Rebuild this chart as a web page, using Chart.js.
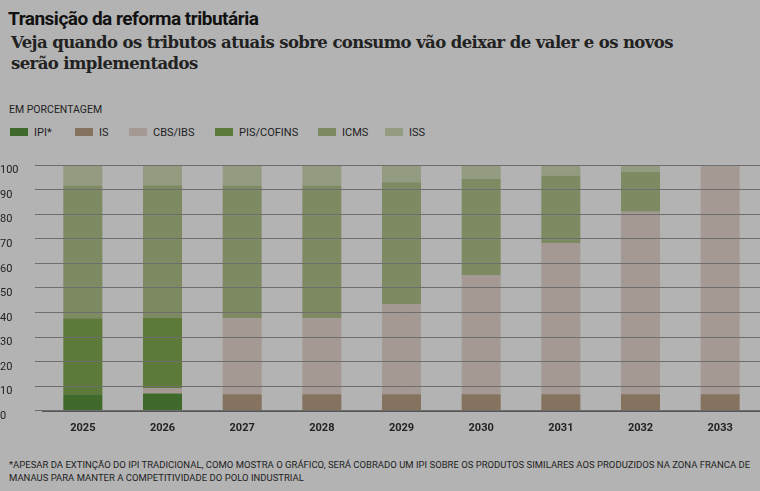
<!DOCTYPE html><html><head><meta charset="utf-8">
<script src="https://cdn.jsdelivr.net/npm/chart.js@4"></script>
<style>
body{margin:0;width:760px;height:491px;background:#b3b3b3;font-family:Roboto,sans-serif;position:relative;overflow:hidden;color:#1a1a1a}
#t{position:absolute;left:8px;top:7px;font:bold 19px Roboto;letter-spacing:-0.5px;color:#111}
#s{position:absolute;left:11px;top:32px;font:bold 16.5px 'DejaVu Serif',serif;line-height:21px;color:#222;letter-spacing:-0.6px}
#u{position:absolute;left:9px;top:103px;font:10.5px Roboto;color:#222}
#lg{position:absolute;left:10px;top:126px;font:11px Roboto;color:#222}
#lg span{position:absolute;white-space:nowrap}
#lg i{display:inline-block;width:18px;height:8px;margin-right:6px;vertical-align:middle;position:relative;top:-1px}
#f{position:absolute;left:9px;top:458px;font:9.5px Roboto;color:#222;line-height:13px}
#c{position:absolute;left:0;top:155px}
</style></head><body>
<div id="t">Transição da reforma tributária</div>
<div id="s">Veja quando os tributos atuais sobre consumo vão deixar de valer e os novos<br>serão implementados</div>
<div id="u">EM PORCENTAGEM</div>
<div id="lg"></div>
<div id="c"><canvas id="cv" width="760" height="283"></canvas></div>
<div id="f">*APESAR DA EXTINÇÃO DO IPI TRADICIONAL, COMO MOSTRA O GRÁFICO, SERÁ COBRADO UM IPI SOBRE OS PRODUTOS SIMILARES AOS PRODUZIDOS NA ZONA FRANCA DE<br>MANAUS PARA MANTER A COMPETITIVIDADE DO POLO INDUSTRIAL</div>
<script>
const years=['2025','2026','2027','2028','2029','2030','2031','2032','2033'];
const seriesNames=['IPI*','IS','CBS/IBS','PIS/COFINS','ICMS','ISS'];
const ipi=[6.7,7,0,0,0,0,0,0,0];
const is=[0,0,6.7,6.7,6.7,6.7,6.7,6.7,6.7];
const cbs=[0,2.3,31,31,36.8,48.3,61.6,74.3,93.3];
const pis=[31,28.5,0,0,0,0,0,0,0];
const icms=[54,54,54,54,49.5,39.3,27.4,16.3,0];
const iss=[8.3,8.2,8.3,8.3,7,5.7,4.3,2.7,0];
const colors=['#3f6a2c','#85735f','#a49a93','#5e7a3a','#7e8b62','#939c80'];
const data=[ipi,is,cbs,pis,icms,iss];
const lx=[0,65,119,205,308,375];
const lg=document.getElementById('lg');
seriesNames.forEach((n,i)=>{const s=document.createElement('span');s.style.left=lx[i]+'px';s.innerHTML='<i style="background:'+colors[i]+'"></i>'+n;lg.appendChild(s);});
new Chart(document.getElementById('cv'),{type:'bar',
data:{labels:years,datasets:data.map((d,i)=>({label:seriesNames[i],data:d,backgroundColor:colors[i],borderWidth:0,barPercentage:0.49,categoryPercentage:1}))},
options:{responsive:false,animation:false,layout:{padding:{left:0,right:0,top:10,bottom:0}},
plugins:{legend:{display:false},tooltip:{enabled:false}},
scales:{x:{stacked:true,grid:{display:false},border:{color:'#555',width:2},ticks:{color:'#222',font:{family:'Roboto',weight:'bold',size:11}}},
y:{stacked:true,min:0,max:100,afterFit:a=>{a.width=43},grid:{z:1,color:'#6e6e6e',lineWidth:1},border:{display:false},ticks:{stepSize:10,color:'#222',align:'start',crossAlign:'far',padding:0,font:{family:'Roboto',size:11}}}}}});
</script></body></html>
